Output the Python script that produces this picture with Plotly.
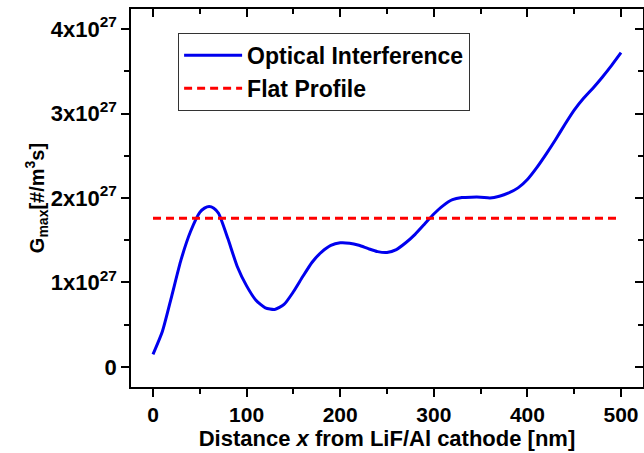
import plotly.graph_objects as go

# Data (G_max in units of 1e27 #/m^3s)
distance_nm = [0, 10, 20, 30, 40, 50, 55, 60, 65, 70, 80, 90, 100, 110, 120, 130, 140, 150, 160, 170,
               180, 190, 200, 210, 220, 230, 240, 250, 260, 270, 280, 290, 300, 310, 320, 330,
               340, 350, 360, 370, 380, 390, 400, 410, 420, 430, 440, 450, 460, 470, 480, 490, 500]
optical_interference = [0.15, 0.42, 0.84, 1.27, 1.60, 1.83, 1.88, 1.90, 1.88, 1.82, 1.52, 1.19, 0.96, 0.79,
                        0.70, 0.68, 0.74, 0.89, 1.07, 1.24, 1.36, 1.44, 1.47, 1.465, 1.44, 1.40,
                        1.365, 1.355, 1.39, 1.47, 1.57, 1.69, 1.81, 1.91, 1.98, 2.005, 2.01, 2.01,
                        2.00, 2.02, 2.06, 2.12, 2.22, 2.36, 2.52, 2.69, 2.87, 3.04, 3.18, 3.30,
                        3.43, 3.57, 3.72]
flat_x = [0, 500]
flat_profile = [1.76, 1.76]

y_tickvals = [0, 1, 2, 3, 4]
y_ticktext = ["0", "1x10<sup>27</sup>", "2x10<sup>27</sup>", "3x10<sup>27</sup>", "4x10<sup>27</sup>"]
x_tickvals = [0, 100, 200, 300, 400, 500]

FONT = "Liberation Sans, Arial, sans-serif"
xr = [-23.5, 523.5]
yr = [-0.237, 4.237]

fig = go.Figure()
fig.add_trace(go.Scatter(x=distance_nm, y=optical_interference, mode="lines",
                         name="Optical Interference", legendgroup="a",
                         line=dict(color="#0000ee", width=3, shape="spline", smoothing=0.6)))
fig.add_trace(go.Scatter(x=flat_x, y=flat_profile, mode="lines", name="Flat Profile",
                         legendgroup="b",
                         line=dict(color="#ff0000", width=3, dash="8px,5px")))
# invisible helper so the top/right (inward-tick) axes are drawn
fig.add_trace(go.Scatter(x=flat_x, y=flat_profile, xaxis="x2", yaxis="y2", mode="lines",
                         line=dict(width=0), opacity=0, showlegend=False, hoverinfo="skip"))

axis_common = dict(showline=True, linecolor="black", linewidth=1.5, showgrid=False,
                   zeroline=False, tickcolor="black", tickwidth=1.5)

fig.update_layout(
    width=644, height=453,
    margin=dict(l=131, r=1, t=9, b=66),
    paper_bgcolor="white", plot_bgcolor="white",
    font=dict(family=FONT, color="black", size=21),
    showlegend=True,
    legend=dict(x=0.092, y=0.937, xanchor="left", yanchor="top",
                bordercolor="#333", borderwidth=1, bgcolor="white",
                font=dict(family=FONT, size=23, weight="bold"),
                tracegroupgap=0, itemwidth=58),
    xaxis=dict(range=xr, tickvals=x_tickvals, ticks="outside", ticklen=8,
               minor=dict(ticks="outside", ticklen=5, dtick=50, tick0=0, tickcolor="black", tickwidth=1.5),
               tickfont=dict(size=21, weight="bold"),
               title=dict(text="Distance <i>x</i> from LiF/Al cathode [nm]",
                          font=dict(size=22, weight="bold"), standoff=4),
               **axis_common),
    yaxis=dict(range=yr, tickvals=y_tickvals, ticktext=y_ticktext, ticks="outside", ticklen=8,
               minor=dict(ticks="outside", ticklen=5, dtick=0.5, tick0=0, tickcolor="black", tickwidth=1.5),
               tickfont=dict(size=22, weight="bold"),
               title=dict(text="G<sub>max</sub>[#/m<sup>3</sup>s]",
                          font=dict(size=20, weight="bold"), standoff=0),
               **axis_common),
    xaxis2=dict(range=xr, overlaying="x", side="top", tickvals=x_tickvals, ticks="inside",
                ticklen=8, showticklabels=False,
                minor=dict(ticks="inside", ticklen=5, dtick=50, tick0=0, tickcolor="black", tickwidth=1.5),
                **axis_common),
    yaxis2=dict(range=yr, overlaying="y", side="right", tickvals=y_tickvals, ticks="inside",
                ticklen=8, showticklabels=False,
                minor=dict(ticks="inside", ticklen=5, dtick=0.5, tick0=0, tickcolor="black", tickwidth=1.5),
                **axis_common),
)

fig.write_html("out.html")
